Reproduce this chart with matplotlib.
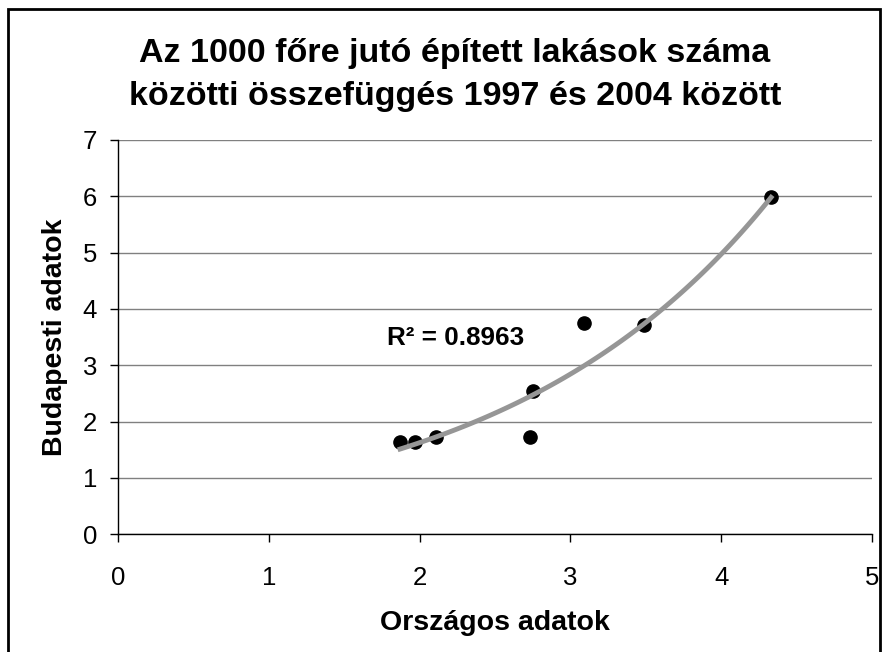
import numpy as np
import matplotlib.pyplot as plt
from matplotlib.patches import Rectangle

# Országos vs Budapesti, 1997-2004 (lakás / 1000 fő)
orszagos = [1.87, 1.97, 2.11, 2.73, 2.75, 3.09, 3.49, 4.33]
budapest = [1.63, 1.63, 1.73, 1.73, 2.55, 3.76, 3.72, 5.98]
x_ticks = [0, 1, 2, 3, 4, 5]
y_ticks = [0, 1, 2, 3, 4, 5, 6, 7]
title_lines = ["Az 1000 főre jutó épített lakások száma",
               "közötti összefüggés 1997 és 2004 között"]

plt.rcParams['font.family'] = ['Liberation Sans', 'DejaVu Sans']

fig = plt.figure(figsize=(8.89, 6.52), dpi=100)
ax = fig.add_axes([0.1327, 0.1805, 0.981 - 0.1327, 0.7853 - 0.1805])

# exponenciális trendvonal (Excel-szerű)
xs = np.array(orszagos)
ys = np.array(budapest)
b, ln_a = np.polyfit(xs, np.log(ys), 1)
xt = np.linspace(xs.min(), xs.max(), 100)
ax.plot(xt, np.exp(ln_a) * np.exp(b * xt), color="#969696", lw=3.5, zorder=3)

ax.plot(orszagos, budapest, 'o', color="black", ms=9.5, zorder=2)

ax.set_xlim(0, 5)
ax.set_ylim(0, 7)
ax.set_xticks(x_ticks)
ax.set_yticks(y_ticks)
ax.tick_params(axis='both', labelsize=18.5, length=6, width=1, direction='out')
ax.tick_params(axis='x', pad=17)
ax.tick_params(axis='y', pad=9)
ax.yaxis.grid(True, color="#808080", lw=1)
ax.set_axisbelow(True)
for side in ["top", "right"]:
    ax.spines[side].set_visible(False)
for side in ["left", "bottom"]:
    ax.spines[side].set_linewidth(1)

ax.set_xlabel("Országos adatok", fontsize=20.5, fontweight="bold")
ax.set_ylabel("Budapesti adatok", fontsize=20.5, fontweight="bold")
ax.xaxis.set_label_coords(0.5, -0.193)
ax.yaxis.set_label_coords(-0.066, 0.5)

ax.text(1.784, 3.48, "R² = 0.8963", fontsize=18.8, fontweight="bold", va="center", ha="left")

# cím két sorban
for line, base in zip(title_lines, [62, 105]):
    fig.text(455 / 889, 1 - base / 652, line, fontsize=24.5, fontweight="bold",
             ha="center", va="baseline")

# keret a diagram körül
fig.patches.append(Rectangle((8 / 889, -0.05), 872 / 889, 1 - 9 / 652 + 0.05,
                             transform=fig.transFigure, fill=False, lw=2, ec="black"))

plt.savefig("out.png", dpi=100)
